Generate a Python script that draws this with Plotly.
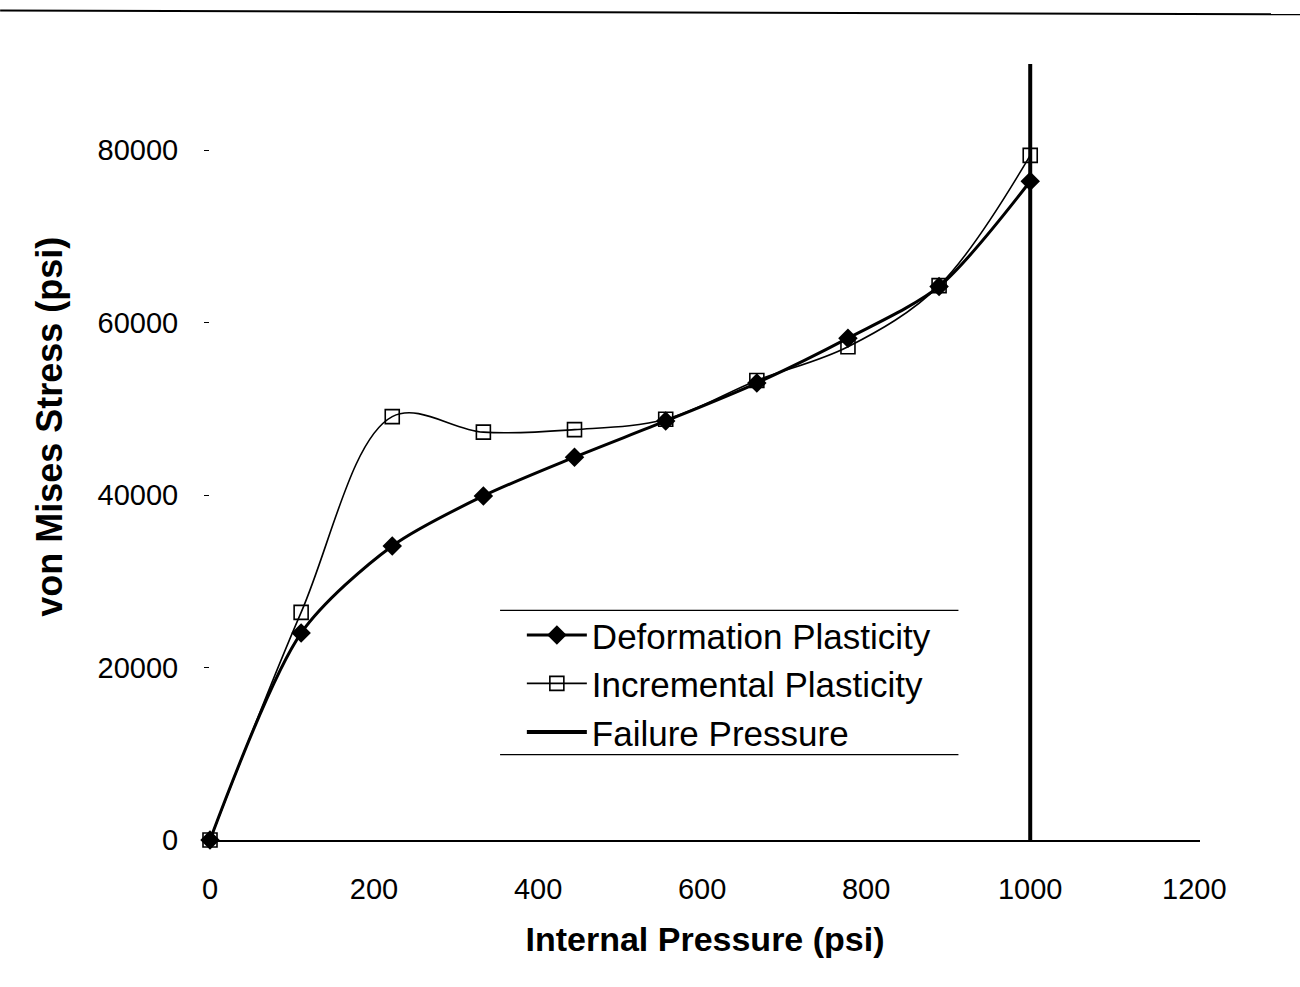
import plotly.graph_objects as go

# Internal pressure steps (psi)
pressure = [0, 111.1, 222.2, 333.3, 444.4, 555.6, 666.7, 777.8, 888.9, 1000]

# von Mises stress (psi) for each plasticity model
deformation_stress = [0, 24000, 34100, 39900, 44400, 48600, 53000, 58200, 64200, 76400]
incremental_stress = [0, 26400, 49100, 47300, 47600, 48800, 53300, 57200, 64300, 79400]

# Failure pressure marker line
failure_x = [1000, 1000]
failure_y = [0, 90200]

FONT = "Liberation Sans, Arial, sans-serif"

fig = go.Figure()

fig.add_trace(go.Scatter(
    x=pressure, y=deformation_stress, name="Deformation Plasticity",
    mode="lines+markers", line=dict(color="black", width=3, shape="spline", smoothing=0.8),
    marker=dict(symbol="diamond", size=15, color="black"),
    legendgroup="a", cliponaxis=False,
))
fig.add_trace(go.Scatter(
    x=pressure, y=incremental_stress, name="Incremental Plasticity",
    mode="lines+markers", line=dict(color="black", width=1.6, shape="spline", smoothing=1.0),
    marker=dict(symbol="square-open", size=14, color="black", line=dict(width=1.6)),
    legendgroup="b", cliponaxis=False,
))
fig.add_trace(go.Scatter(
    x=failure_x, y=failure_y, name="Failure Pressure",
    mode="lines", line=dict(color="black", width=4),
    legendgroup="c", cliponaxis=False,
))

# Rule across the top of the page
fig.add_shape(type="line", xref="paper", yref="paper",
              x0=-0.212, x1=1.101, y0=1.069, y1=1.064,
              line=dict(color="black", width=2))
# Top and bottom rules of the legend block
for yy in (0.296, 0.110):
    fig.add_shape(type="line", xref="paper", yref="paper",
                  x0=0.293, x1=0.756, y0=yy, y1=yy,
                  line=dict(color="black", width=1.2))

# Y axis title, set slightly above the plot's vertical centre
fig.add_annotation(text="<b>von Mises Stress (psi)</b>", textangle=-90,
                   xref="paper", yref="paper", x=-0.162, y=0.532,
                   xanchor="center", yanchor="middle", showarrow=False,
                   font=dict(size=36))

fig.update_layout(
    width=1300, height=987,
    margin=dict(l=210, r=100, t=64, b=147),
    paper_bgcolor="white", plot_bgcolor="white",
    font=dict(family=FONT, size=29, color="black"),
    showlegend=True,
    legend=dict(x=0.315, y=0.302, xanchor="left", yanchor="top",
                bgcolor="rgba(0,0,0,0)", borderwidth=0,
                font=dict(size=35), itemwidth=60, tracegroupgap=0),
    xaxis=dict(range=[0, 1207], tickvals=[0, 200, 400, 600, 800, 1000, 1200],
               showgrid=False, zeroline=False, showline=True, linecolor="black",
               linewidth=1.5, ticks="", ticklabelstandoff=22,
               title=dict(text="<b>Internal Pressure (psi)</b>", font=dict(size=34), standoff=24)),
    yaxis=dict(range=[0, 90000], tickvals=[0, 20000, 40000, 60000, 80000],
               ticktext=["0", "20000", "40000", "60000", "80000"],
               showgrid=False, zeroline=False, showline=False,
               ticks="outside", ticklen=5, tickcolor="black", ticklabelstandoff=20),
)

fig.write_html("out.html")
